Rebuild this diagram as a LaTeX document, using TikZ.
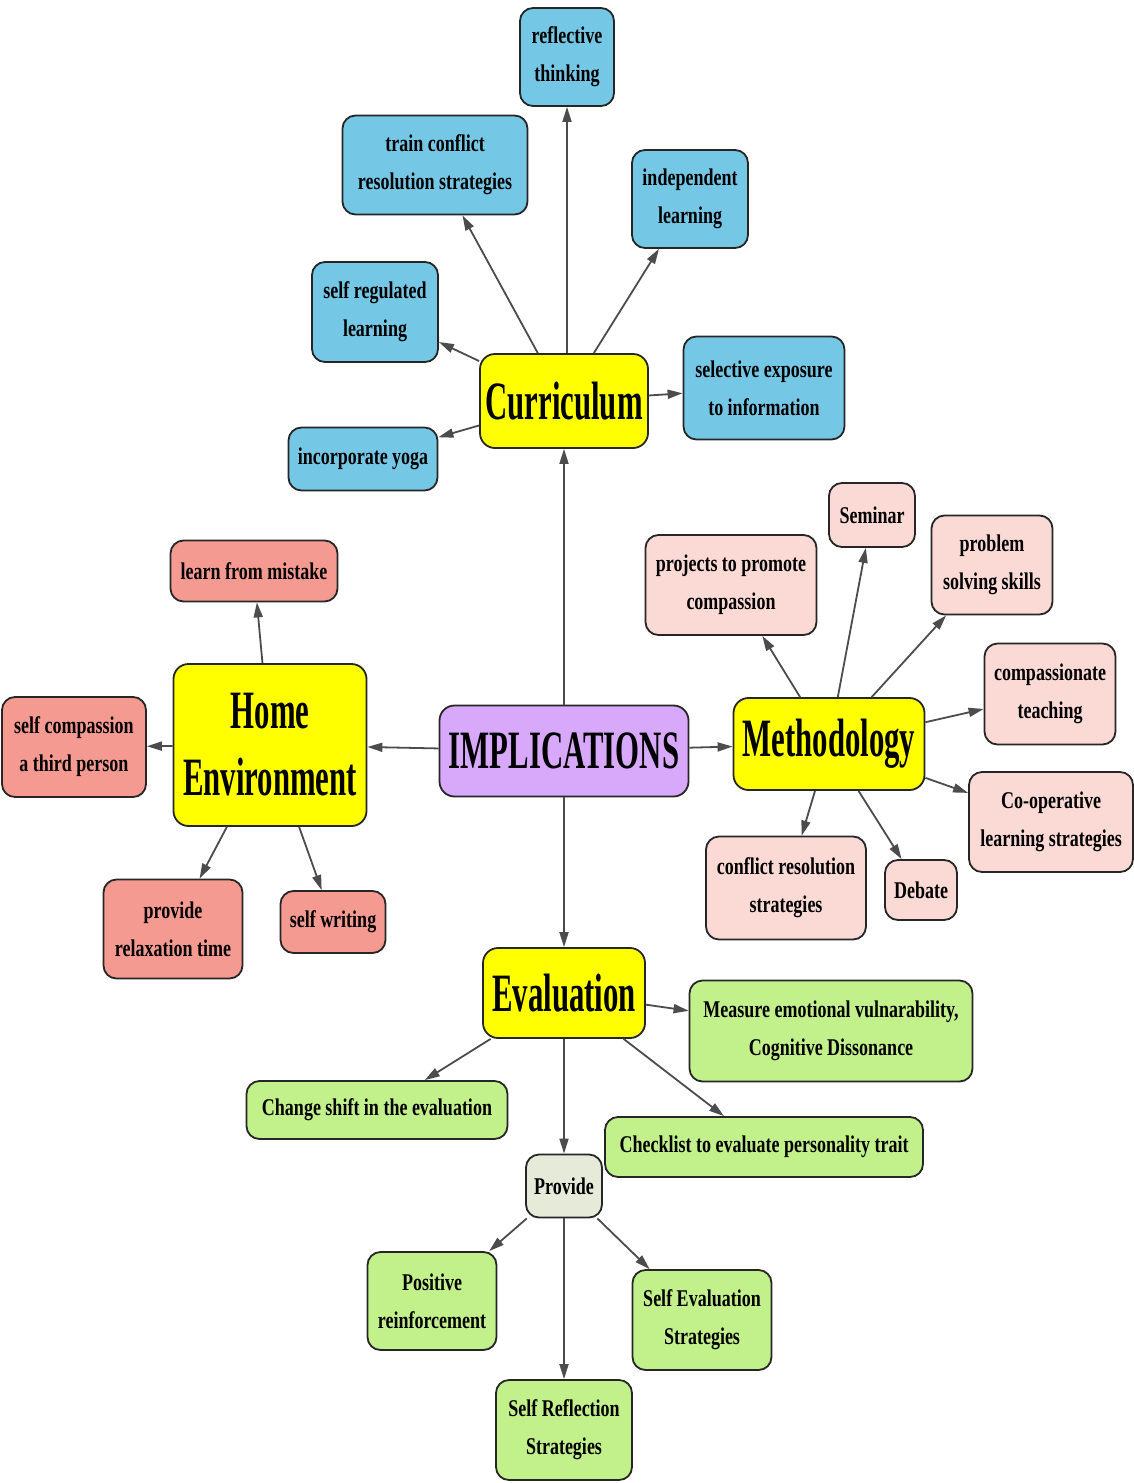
\documentclass[tikz,border=0pt]{standalone}
\usepackage{fontspec}
\usetikzlibrary{arrows.meta}
% condensed bold serif faces for the small boxes and the hub boxes
\newfontfamily\leaffont[FakeStretch=0.75]{Liberation Serif Bold}
\newfontfamily\hubfont[FakeStretch=0.57]{Liberation Serif Bold}
\definecolor{cblue}{HTML}{74C8E6}
\definecolor{csalmon}{HTML}{F59A90}
\definecolor{cpink}{HTML}{FBD9D5}
\definecolor{cgreen}{HTML}{C2F08A}
\definecolor{cgrey}{HTML}{E6EAD8}
\definecolor{cyellow}{HTML}{FFFF00}
\definecolor{cpurple}{HTML}{D8A8FA}
\begin{document}
\begin{tikzpicture}[x=1pt,y=-1pt,
  box/.style={draw=black!85, line width=1.8pt, rounded corners=13pt,
    align=center, inner sep=0pt},
  leaf/.style={box, font=\leaffont\fontsize{24}{38}\selectfont},
  hub/.style={box, fill=cyellow, rounded corners=15pt,
    font=\hubfont\fontsize{54}{67}\selectfont},
  wh/.style 2 args={minimum width=#1pt, minimum height=#2pt},
  conn/.style={draw=black!70, line width=1.8pt,
    -{Triangle[length=15pt,width=9pt]}}]
\useasboundingbox (0,0) rectangle (1133,1483);
\fill[white] (0,0) rectangle (1133,1483);

% central and hub nodes
\node[hub, fill=cpurple, wh={249}{91}] (impl) at (564,751) {IMPLICATIONS};
\node[hub, wh={168}{94}] (curr) at (564,401) {Curriculum};
\node[hub, wh={193}{162}] (home) at (270,745) {Home\\Environment};
\node[hub, wh={191}{92}] (meth) at (829,744) {Methodology};
\node[hub, wh={162}{90}] (eval) at (564,993) {Evaluation};

% curriculum branch
\node[leaf, fill=cblue, wh={94}{98}] (refl) at (567,57) {reflective\\thinking};
\node[leaf, fill=cblue, wh={185}{99}] (train) at (435,165) {train conflict\\resolution strategies};
\node[leaf, fill=cblue, wh={116}{98}] (indep) at (690,199) {independent\\learning};
\node[leaf, fill=cblue, wh={126}{100}] (selfreg) at (375,312) {self regulated\\learning};
\node[leaf, fill=cblue, wh={161}{103}] (select) at (764,388) {selective exposure\\to information};
\node[leaf, fill=cblue, wh={149}{63}] (yoga) at (363,459) {incorporate yoga};

% home environment branch
\node[leaf, fill=csalmon, wh={167}{61}] (mistake) at (254,571) {learn from mistake};
\node[leaf, fill=csalmon, wh={144}{100}] (thirdp) at (74,747) {self compassion\\a third person};
\node[leaf, fill=csalmon, wh={139}{99}] (relax) at (173,929) {provide\\relaxation time};
\node[leaf, fill=csalmon, wh={105}{62}] (swrite) at (333,922) {self writing};

% methodology branch
\node[leaf, fill=cpink, wh={86}{64}] (semin) at (872,515) {Seminar};
\node[leaf, fill=cpink, wh={171}{100}] (proj) at (731,585) {projects to promote\\compassion};
\node[leaf, fill=cpink, wh={121}{99}] (probl) at (992,565) {problem\\solving skills};
\node[leaf, fill=cpink, wh={131}{101}] (cteach) at (1050,694) {compassionate\\teaching};
\node[leaf, fill=cpink, wh={164}{100}] (coop) at (1051,822) {Co-operative\\learning strategies};
\node[leaf, fill=cpink, wh={160}{103}] (confl) at (786,888) {conflict resolution\\strategies};
\node[leaf, fill=cpink, wh={72}{60}] (debate) at (921,890) {Debate};

% evaluation branch
\node[leaf, fill=cgreen, wh={283}{101}] (measure) at (831,1031) {Measure emotional vulnarability,\\Cognitive Dissonance};
\node[leaf, fill=cgreen, wh={261}{58}] (shift) at (377,1110) {Change shift in the evaluation};
\node[leaf, fill=cgreen, wh={318}{60}] (check) at (764,1147) {Checklist to evaluate personality trait};
\node[leaf, fill=cgrey, wh={76}{63}] (prov) at (564,1186) {Provide};
\node[leaf, fill=cgreen, wh={129}{98}] (posit) at (432,1301) {Positive\\reinforcement};
\node[leaf, fill=cgreen, wh={139}{100}] (seval) at (702,1320) {Self Evaluation\\Strategies};
\node[leaf, fill=cgreen, wh={136}{100}] (srefl) at (564,1430) {Self Reflection\\Strategies};

% connectors
\draw[conn] (impl) -- (curr);
\draw[conn] (impl) -- (home);
\draw[conn] (impl) -- (meth);
\draw[conn] (impl) -- (eval);

\draw[conn] (curr.north -| refl) -- (refl);
\draw[conn] (curr) -- (train);
\draw[conn] (curr) -- (indep);
\draw[conn] (curr) -- (selfreg);
\draw[conn] (curr) -- (select);
\draw[conn] (curr) -- (yoga);

\draw[conn] (home) -- (mistake);
\draw[conn] (home) -- (thirdp);
\draw[conn] (home) -- (relax);
\draw[conn] (home) -- (swrite);

\draw[conn] (meth) -- (semin);
\draw[conn] (meth) -- (proj);
\draw[conn] (meth) -- (probl);
\draw[conn] (meth) -- (cteach);
\draw[conn] (meth) -- (coop);
\draw[conn] (meth) -- (confl);
\draw[conn] (meth) -- (debate);

\draw[conn] (eval) -- (measure);
\draw[conn] (eval) -- (shift);
\draw[conn] (eval) -- (check);
\draw[conn] (eval) -- (prov);

\draw[conn] (prov) -- (posit);
\draw[conn] (prov) -- (seval);
\draw[conn] (prov) -- (srefl);
\end{tikzpicture}
\end{document}
